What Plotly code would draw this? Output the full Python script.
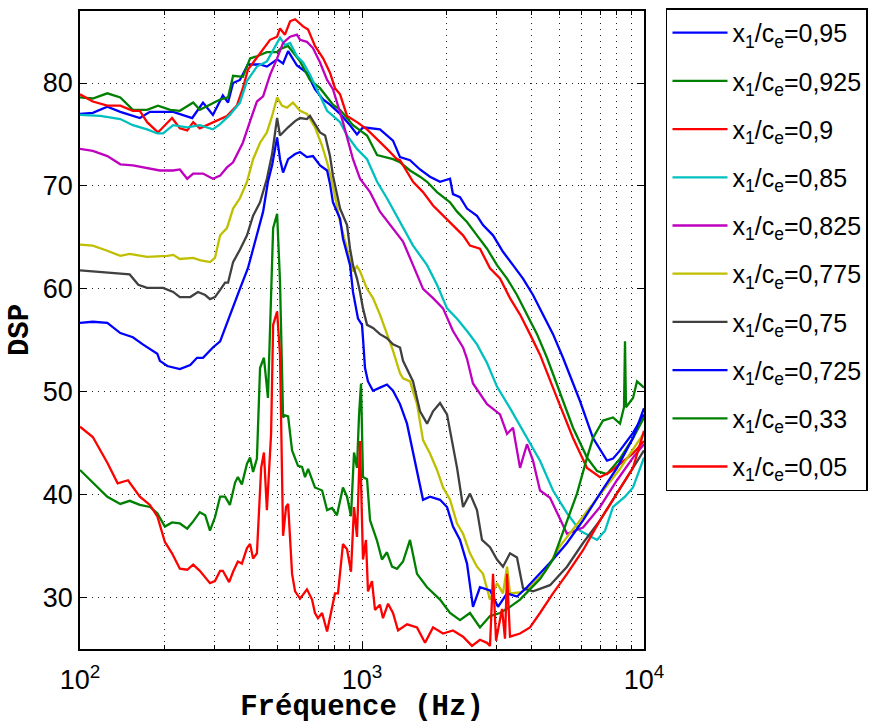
import plotly.graph_objects as go

# Frequencies (Hz) and DSP levels, one pair of lists per curve
f_095 = [100, 111, 125, 139, 163, 177, 214, 250, 273, 296, 321, 335, 349, 369, 394, 435, 460, 500, 525, 547,
         588, 638, 681, 728, 770, 836, 907, 960, 1008, 1158, 1288, 1364, 1480, 1606, 1742, 1891, 2052, 2102, 2226, 2357,
         2557, 2686, 2915, 3162, 3432, 3724, 4041, 4385, 4757, 5162, 5465, 5929, 6594, 7392, 7765, 8221, 9141, 10000]
v_095 = [77.0, 77.1, 77.7, 77.2, 76.6, 77.2, 77.2, 76.6, 78.1, 76.9, 78.8, 78.1, 80.0, 80.3, 81.8, 81.8, 81.6, 82.3, 81.9, 83.1,
         81.7, 81.0, 79.4, 78.4, 77.9, 77.0, 75.9, 75.0, 75.7, 75.5, 74.4, 72.8, 72.5, 71.6, 70.9, 70.4, 70.7, 69.2, 68.9, 67.8,
         67.1, 66.2, 65.2, 63.6, 62.3, 61.0, 59.4, 57.5, 55.6, 53.3, 51.5, 49.1, 45.5, 43.3, 43.5, 44.3, 46.0, 47.8]

f_0925 = [100, 111, 125, 139, 154, 173, 189, 209, 226, 252, 266, 289, 314, 335, 349, 378, 401, 424, 460, 500,
          512, 547, 603, 654, 710, 789, 836, 929, 1042, 1131, 1288, 1364, 1480, 1606, 1701, 1845, 1938, 2052, 2173, 2357,
          2557, 2776, 3011, 3268, 3545, 3846, 4174, 4529, 5036, 5601, 6280, 6813, 7392, 8221, 9141, 10000]
v_0925 = [78.6, 78.5, 79.0, 78.6, 77.4, 77.4, 77.8, 77.4, 77.3, 78.1, 77.4, 77.9, 78.4, 78.6, 80.7, 80.6, 82.4, 82.6, 83.0, 83.0,
          83.3, 83.6, 82.1, 80.3, 79.5, 77.9, 77.4, 75.9, 74.9, 73.0, 72.6, 72.3, 71.5, 70.9, 70.4, 69.4, 68.9, 68.4, 67.5, 66.5,
          65.2, 63.9, 62.3, 61.0, 59.4, 57.5, 55.6, 53.3, 49.8, 46.5, 43.6, 42.3, 42.0, 43.5, 45.5, 47.5]

f_09 = [100, 111, 125, 139, 154, 163, 173, 189, 212, 226, 240, 252, 266, 296, 332, 360, 378, 394, 435, 472,
        500, 512, 533, 556, 579, 618, 644, 681, 728, 770, 802, 836, 885, 960, 1042, 1158, 1226, 1331, 1364, 1517,
        1646, 1786, 1938, 2102, 2282, 2415, 2620, 2844, 3086, 3348, 3634, 3941, 4278, 4914, 5601, 6280, 6982, 7577, 8221, 9141,
        10000]
v_09 = [78.9, 78.2, 77.8, 77.8, 77.3, 77.3, 76.2, 75.2, 76.6, 75.6, 75.4, 76.2, 75.6, 76.2, 76.8, 77.8, 79.5, 81.3, 82.9, 84.2,
        84.5, 85.3, 84.7, 86.0, 86.2, 85.5, 85.2, 83.6, 82.4, 81.0, 79.5, 78.9, 76.8, 76.2, 75.5, 74.2, 73.6, 72.6, 72.5, 70.4,
        69.4, 68.1, 67.1, 66.2, 65.2, 64.2, 63.9, 62.0, 61.0, 59.1, 57.5, 55.6, 53.6, 49.4, 45.5, 42.6, 41.7, 42.2, 43.0, 44.0,
        45.2]

f_085 = [100, 118, 139, 154, 173, 188, 197, 214, 240, 266, 296, 314, 340, 369, 391, 424, 460, 500, 512, 533,
         556, 588, 618, 654, 681, 710, 752, 789, 836, 885, 960, 1042, 1131, 1226, 1364, 1517, 1701, 1845, 2002, 2173,
         2357, 2557, 2776, 3011, 3348, 3724, 4278, 4757, 5333, 5929, 6813, 7275, 7765, 8563, 9141, 10000]
v_085 = [76.9, 76.8, 76.5, 75.9, 75.5, 75.1, 75.1, 75.9, 75.7, 75.9, 75.5, 76.0, 76.9, 78.1, 80.2, 81.6, 82.1, 83.9, 84.4, 83.7,
         83.9, 82.6, 82.0, 80.8, 79.8, 78.8, 77.3, 76.8, 76.2, 74.9, 73.6, 72.6, 70.4, 68.8, 66.5, 64.2, 62.3, 60.4, 58.1, 57.1,
         55.9, 54.6, 52.8, 50.5, 48.4, 46.2, 43.3, 40.4, 38.2, 36.5, 35.6, 36.5, 38.8, 39.8, 40.7, 43.6]

f_0825 = [100, 111, 125, 139, 154, 173, 192, 214, 226, 240, 252, 273, 296, 314, 332, 349, 378, 401, 424, 446,
          472, 500, 525, 556, 588, 603, 638, 670, 710, 752, 789, 856, 929, 984, 1068, 1158, 1288, 1398, 1517, 1646,
          1786, 1938, 2102, 2282, 2357, 2475, 2776, 3086, 3268, 3432, 3634, 3846, 4041, 4278, 4642, 4914, 5333, 6078, 6982, 8022,
          9141, 10000]
v_0825 = [73.6, 73.4, 72.9, 72.1, 72.0, 71.7, 71.5, 71.5, 71.6, 70.7, 71.2, 71.2, 70.7, 71.0, 71.8, 72.3, 74.2, 76.3, 78.2, 78.7,
          80.8, 82.4, 83.9, 84.5, 84.7, 84.2, 84.0, 83.4, 82.0, 80.3, 79.4, 76.2, 72.6, 70.7, 69.4, 67.5, 65.9, 64.6, 62.3, 60.0,
          59.1, 58.1, 55.9, 54.3, 53.2, 50.8, 48.8, 47.8, 45.9, 46.5, 42.6, 44.9, 43.3, 40.4, 39.7, 38.2, 36.2, 36.8, 38.8, 41.4,
          43.6, 44.9]

f_0775 = [100, 111, 125, 139, 150, 173, 204, 214, 226, 252, 266, 289, 301, 314, 332, 349, 369, 391, 411, 435,
          460, 480, 500, 520, 542, 569, 603, 638, 681, 722, 752, 783, 836, 885, 929, 960, 984, 1042, 1094, 1158,
          1226, 1288, 1364, 1398, 1480, 1567, 1646, 1742, 1845, 1938, 2052, 2173, 2282, 2415, 2557, 2686, 2844, 3011, 3162, 3268,
          3348, 3634, 3941, 4456, 5036, 5929, 6982, 8221, 10000]
v_0775 = [64.3, 64.2, 63.7, 63.2, 63.4, 63.1, 63.2, 63.3, 62.9, 63.0, 62.8, 62.6, 63.0, 65.2, 65.9, 67.8, 68.8, 70.4, 72.6, 74.2,
          75.2, 76.8, 78.6, 77.8, 77.6, 78.1, 77.3, 77.0, 75.7, 73.9, 72.3, 70.4, 66.5, 63.9, 61.7, 62.2, 61.7, 60.0, 59.1, 57.5,
          55.6, 54.0, 51.8, 51.3, 51.0, 48.8, 45.3, 44.0, 42.4, 40.7, 39.5, 37.2, 36.2, 34.3, 33.0, 32.3, 29.8, 31.4, 30.4, 33.0,
          30.4, 30.5, 31.0, 32.5, 35.0, 37.5, 40.0, 42.5, 46.0]

f_075 = [100, 125, 150, 161, 173, 197, 214, 226, 246, 262, 278, 289, 301, 314, 327, 335, 349, 369, 391, 411,
         435, 460, 480, 500, 512, 547, 579, 603, 638, 654, 681, 710, 740, 770, 789, 815, 836, 885, 907, 929,
         960, 984, 1008, 1042, 1094, 1158, 1226, 1288, 1364, 1398, 1517, 1606, 1701, 1786, 1891, 2002, 2173, 2282, 2415, 2557,
         2664, 2844, 3011, 3162, 3348, 3545, 3724, 4041, 4642, 5333, 6078, 6982, 8022, 9141, 10000]
v_075 = [61.8, 61.6, 61.4, 60.4, 60.1, 60.1, 59.7, 59.2, 59.2, 59.7, 59.4, 59.0, 59.2, 59.9, 60.6, 60.6, 62.6, 63.8, 65.2, 67.1,
         68.4, 70.7, 73.1, 76.6, 74.9, 75.7, 76.3, 76.6, 76.5, 76.8, 76.0, 75.2, 74.9, 72.9, 71.0, 69.1, 67.8, 66.2, 63.9, 62.3,
         61.0, 59.7, 58.1, 56.5, 56.2, 55.6, 55.2, 54.6, 54.3, 53.0, 51.0, 48.1, 46.9, 48.1, 48.9, 47.8, 42.6, 38.8, 40.1, 38.5,
         35.6, 34.9, 33.7, 33.0, 34.3, 33.9, 30.9, 30.6, 31.2, 33.0, 35.3, 37.5, 40.1, 42.6, 44.3]

f_0725 = [100, 111, 125, 139, 154, 167, 188, 192, 204, 226, 246, 260, 273, 296, 314, 340, 369, 394, 424, 446,
          464, 480, 500, 512, 525, 547, 579, 603, 638, 670, 710, 752, 770, 789, 836, 856, 907, 929, 968, 1000,
          1008, 1025, 1050, 1094, 1158, 1226, 1288, 1364, 1444, 1567, 1646, 1742, 1891, 2002, 2102, 2226, 2357, 2475, 2620, 2844,
          3036, 3268, 3545, 3846, 4278, 4757, 5333, 6078, 6982, 8022, 9141, 10000]
v_0725 = [56.7, 56.8, 56.7, 55.7, 55.3, 54.6, 53.7, 53.0, 52.5, 52.2, 52.6, 53.3, 53.3, 54.3, 54.9, 57.5, 60.0, 62.0, 65.2, 67.5,
          70.4, 72.0, 74.7, 72.6, 71.3, 72.6, 73.1, 73.3, 72.8, 72.9, 72.0, 71.5, 70.2, 68.4, 66.8, 64.9, 62.3, 59.7, 57.1, 56.5,
          55.2, 52.3, 51.0, 50.1, 50.4, 50.7, 50.1, 48.8, 46.9, 42.4, 39.5, 39.8, 39.5, 38.8, 36.9, 35.6, 33.3, 29.1, 31.0, 30.7,
          29.1, 30.4, 30.1, 31.0, 32.3, 33.7, 35.3, 37.5, 40.1, 42.6, 45.5, 48.4]

f_033 = [100, 111, 125, 139, 150, 163, 177, 188, 200, 212, 226, 240, 252, 266, 278, 289, 301, 314, 327, 340,
         355, 363, 375, 391, 401, 411, 424, 435, 449, 464, 484, 500, 512, 525, 533, 547, 565, 593, 613, 628,
         644, 681, 722, 752, 783, 815, 856, 885, 914, 937, 960, 976, 992, 1008, 1042, 1068, 1131, 1177, 1226, 1278,
         1331, 1398, 1480, 1567, 1701, 1891, 2052, 2226, 2415, 2620, 2844, 3086, 3348, 3634, 3941, 4278, 4757, 5162, 5465, 5786,
         6280, 6594, 7156, 7765, 8221, 8493, 8563, 8631, 9141, 9445, 10000]
v_033 = [42.4, 41.2, 39.8, 39.1, 39.4, 39.0, 38.8, 38.2, 36.9, 37.3, 37.2, 36.7, 37.4, 38.3, 38.0, 36.5, 37.8, 39.8, 39.8, 39.0,
         41.2, 41.7, 41.0, 43.0, 43.6, 42.2, 43.5, 52.3, 53.3, 49.4, 65.9, 67.3, 60.7, 47.5, 47.7, 47.6, 44.3, 42.8, 42.7, 41.7,
         42.5, 40.7, 40.4, 38.5, 38.7, 38.0, 40.7, 39.8, 37.9, 44.1, 42.6, 47.7, 50.8, 41.7, 41.5, 37.5, 35.5, 33.7, 34.4, 33.0,
         32.8, 33.5, 35.6, 32.3, 31.0, 29.8, 28.5, 27.8, 28.5, 27.1, 28.2, 28.5, 29.1, 29.8, 30.8, 31.8, 33.7, 36.3, 38.2, 40.1,
         43.6, 45.5, 47.2, 47.5, 46.9, 48.5, 54.9, 48.5, 49.4, 51.0, 50.4]

f_005 = [100, 111, 125, 136, 148, 163, 177, 188, 200, 212, 226, 240, 252, 266, 289, 301, 314, 321, 338, 349,
         363, 375, 391, 401, 411, 424, 439, 449, 460, 476, 484, 500, 512, 525, 538, 547, 565, 579, 603, 638,
         665, 681, 698, 722, 752, 783, 802, 822, 856, 885, 914, 937, 960, 984, 1008, 1033, 1050, 1085, 1112, 1158,
         1187, 1237, 1288, 1342, 1444, 1567, 1673, 1786, 1938, 2102, 2282, 2455, 2620, 2776, 2844, 2915, 2988, 3137, 3214, 3268,
         3348, 3634, 3941, 4278, 4757, 5333, 6078, 6982, 8022, 9141, 10000]
v_005 = [46.6, 45.6, 43.1, 41.1, 41.4, 39.8, 39.0, 37.9, 35.4, 34.3, 32.8, 32.7, 33.2, 32.6, 31.4, 31.6, 32.6, 32.6, 31.5, 32.5,
         33.5, 33.3, 34.8, 35.2, 33.8, 34.3, 42.6, 44.1, 38.5, 45.9, 56.5, 57.8, 53.6, 36.0, 38.8, 39.1, 32.3, 30.6, 29.9, 30.8,
         29.8, 28.5, 28.0, 28.5, 26.7, 29.0, 30.4, 30.4, 35.2, 34.7, 32.5, 38.8, 35.9, 45.2, 33.7, 35.6, 30.6, 31.6, 28.8, 29.3,
         28.0, 29.4, 28.5, 26.8, 27.4, 27.1, 25.6, 27.1, 26.5, 26.8, 26.2, 25.3, 25.9, 25.6, 25.3, 32.3, 25.8, 28.9, 26.0, 32.3,
         26.2, 26.5, 27.1, 28.5, 30.4, 32.3, 34.6, 37.5, 40.1, 42.6, 46.2]

ratios = ['0,95', '0,925', '0,9', '0,85', '0,825', '0,775', '0,75', '0,725', '0,33', '0,05']
freqs = [f_095, f_0925, f_09, f_085, f_0825, f_0775, f_075, f_0725, f_033, f_005]
levels = [v_095, v_0925, v_09, v_085, v_0825, v_0775, v_075, v_0725, v_033, v_005]
couleurs = ['#0000ff', '#008000', '#ff0000', '#00bfbf', '#bf00bf', '#bfbf00', '#404040', '#0000ff', '#008000', '#ff0000']

fig = go.Figure()
for r, f, v, c in zip(ratios, freqs, levels, couleurs):
    assert len(f) == len(v), r
    fig.add_trace(go.Scatter(x=f, y=v, mode='lines', name='x<sub>1</sub>/c<sub>e</sub>=' + r,
                             legendgroup=r, line=dict(color=c, width=2.3)))

grille = dict(showgrid=True, gridcolor='#222222', griddash='1px,5px', gridwidth=1)
axe = dict(showline=True, linecolor='black', linewidth=1.5, mirror='ticks',
           ticks='inside', ticklen=7, tickcolor='black', automargin=False,
           zeroline=False, tickfont=dict(family='Liberation Sans', size=27, color='black'), **grille)
titre_font = dict(family='Liberation Mono', size=29, weight='bold', color='black')

fig.update_xaxes(axe, type='log', range=[2, 4], ticklabelstandoff=6,
                 tickvals=[100, 1000, 10000], ticktext=['10<sup>2</sup>', '10<sup>3</sup>', '10<sup>4</sup>'],
                 minor=dict(tickvals=[200, 300, 400, 500, 600, 700, 800, 900,
                                      2000, 3000, 4000, 5000, 6000, 7000, 8000, 9000],
                            ticks='inside', ticklen=4, tickcolor='black', **grille),
                 title=dict(text='Fréquence (Hz)', standoff=3, font=titre_font))
fig.update_yaxes(axe, range=[25, 87], tickvals=[30, 40, 50, 60, 70, 80],
                 title=dict(text='DSP', standoff=6, font=titre_font))

fig.update_layout(
    width=889, height=724,
    margin=dict(l=80, r=245, t=8, b=75),
    paper_bgcolor='white', plot_bgcolor='white',
    font=dict(family='Liberation Sans', color='black'),
    legend=dict(x=1.039, y=1.004, xanchor='left', yanchor='top', maxheight=1,
                bordercolor='black', borderwidth=1.5, bgcolor='white',
                font=dict(family='Liberation Sans', size=25, color='black'),
                tracegroupgap=12.7, itemwidth=55),
)

# la page HTML a une marge de 8 px par défaut : on la retire
fig.write_html('out.html', config={'displayModeBar': False},
               post_script="document.body.style.margin='0';")
